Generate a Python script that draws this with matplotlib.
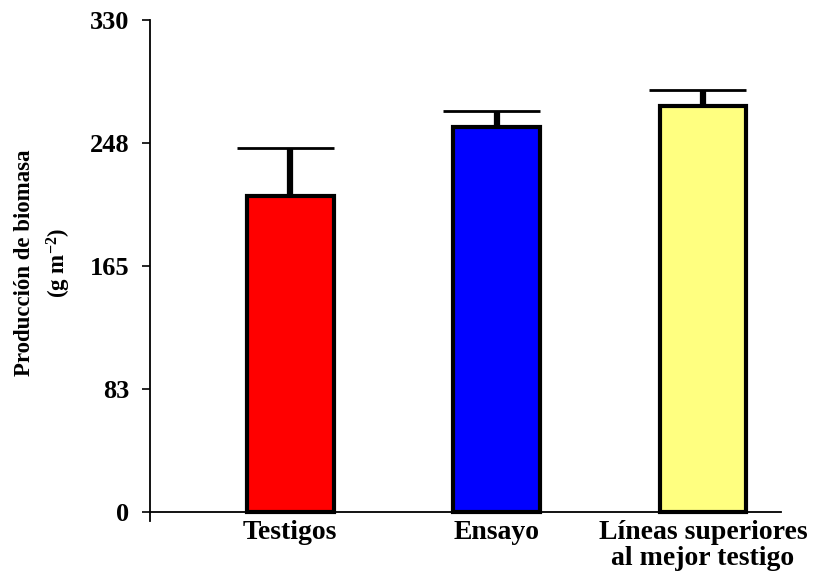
import matplotlib.pyplot as plt

# Biomass production per group (g m-2)
categories = ["Testigos", "Ensayo", "Líneas superiores\nal mejor testigo"]
biomass = [212, 258, 272]
error_up = [32, 11, 11]
bar_colors = ["#ff0000", "#0000ff", "#ffff80"]
ytick_values = [0, 82.5, 165, 247.5, 330]
ytick_labels = ["0", "83", "165", "248", "330"]

plt.rcParams["font.family"] = ["Liberation Serif", "DejaVu Serif"]
plt.rcParams["font.weight"] = "bold"
plt.rcParams["mathtext.fontset"] = "custom"
plt.rcParams["mathtext.rm"] = "Liberation Serif:bold"
plt.rcParams["mathtext.bf"] = "Liberation Serif:bold"
plt.rcParams["mathtext.default"] = "bf"

fig = plt.figure(figsize=(8.19, 5.71), dpi=100)
ax = fig.add_axes([0.183, 0.0876, 0.771, 0.8774])

x = list(range(len(categories)))
width = 0.42

# Error stems (upward only) drawn first so bars sit on top
ax.errorbar(x, biomass, yerr=[[0] * len(x), error_up], fmt="none",
            ecolor="black", elinewidth=4.5, capsize=0, zorder=1)
tops = [b + e for b, e in zip(biomass, error_up)]
ax.hlines(tops, [xi - width / 2 - 0.05 for xi in x], [xi + width / 2 for xi in x],
          colors="black", linewidth=2, zorder=1)

ax.bar(x, biomass, width=width, color=bar_colors, edgecolor="black",
       linewidth=3, zorder=2)

ax.set_xlim(-0.68, 2.38)
ax.set_ylim(-6, 330)
ax.spines["bottom"].set_position(("data", 0))
ax.set_yticks(ytick_values)
ax.set_yticklabels(ytick_labels, fontsize=19, fontweight="bold")
ax.set_xticks(x)
ax.set_xticklabels(categories, fontsize=20, fontweight="bold", linespacing=1.05)
ax.tick_params(axis="x", length=0, pad=6)
ax.tick_params(axis="y", direction="out", length=6, width=1.2, pad=9)

ax.spines["top"].set_visible(False)
ax.spines["right"].set_visible(False)
ax.spines["left"].set_linewidth(1.3)
ax.spines["bottom"].set_linewidth(1.3)

ax.set_ylabel("Producción de biomasa\n(g m$^{-2}$)", fontsize=16.5,
              fontweight="bold", linespacing=1.45, labelpad=12)
ax.yaxis.label.set_y(0.515)

fig.savefig("out.png", dpi=100)
